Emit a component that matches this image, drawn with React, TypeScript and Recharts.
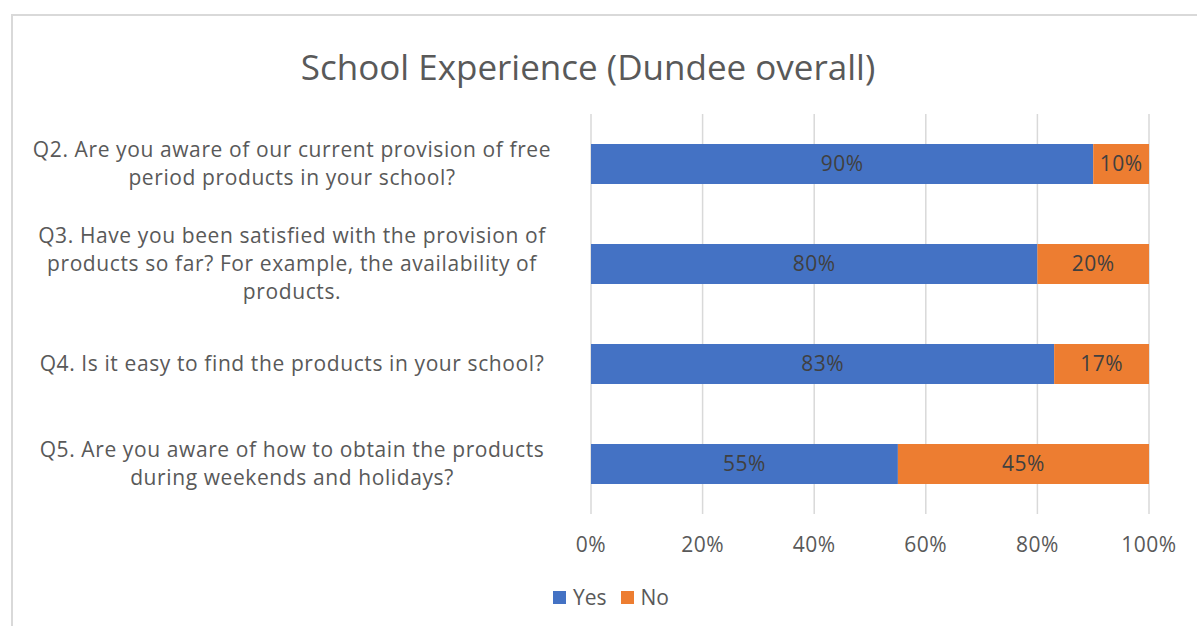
import React from 'react';
import {
  BarChart,
  Bar,
  XAxis,
  YAxis,
  CartesianGrid,
  LabelList,
} from 'recharts';

const questions = ['Q2', 'Q3', 'Q4', 'Q5'];
const questionLines: string[][] = [
  ['Q2. Are you aware of our current provision of free', 'period products in your school?'],
  ['Q3. Have you been satisfied with the provision of', 'products so far? For example, the availability of', 'products.'],
  ['Q4.  Is it easy to find the products in your school?'],
  ['Q5. Are you aware of how to obtain the products', 'during weekends and holidays?'],
];
const yesValues = [90, 80, 83, 55];
const noValues = [10, 20, 17, 45];
const xTicks = [0, 20, 40, 60, 80, 100];

const series = [
  { key: 'yes', name: 'Yes', color: '#4472C4' },
  { key: 'no', name: 'No', color: '#ED7D31' },
];

const data = questions.map((q, i) => ({
  q,
  yes: yesValues[i],
  no: noValues[i],
}));

const FONT = '"Open Sans", "Noto Sans", sans-serif';

const QuestionTick = ({ x, y, payload }: any) => {
  const idx = questions.indexOf(payload.value);
  const lines = questionLines[idx] || [payload.value];
  const lh = 28;
  const start = y - ((lines.length - 1) * lh) / 2;
  return (
    <text
      x={x - 291}
      y={start}
      textAnchor="middle"
      fill="#595959"
      fontSize={21}
      letterSpacing={0.6}
      fontFamily={FONT}
    >
      {lines.map((l, i) => (
        <tspan key={i} x={x - 291} y={start + i * lh} dy="0.35em">
          {l}
        </tspan>
      ))}
    </text>
  );
};

const App: React.FC = () => {
  return (
    <div style={{ position: 'absolute', left: 0, top: 0, width: 1197, height: 626, overflow: 'hidden', background: '#fff' }}>
      <div
        style={{
          position: 'absolute',
          left: 11,
          top: 14,
          width: 1200,
          height: 640,
          border: '2px solid #d9d9d9',
          boxSizing: 'border-box',
        }}
      />
      <div
        style={{
          position: 'absolute',
          left: 0,
          top: 42,
          width: 1176,
          textAlign: 'center',
          fontFamily: FONT,
          fontSize: 35,
          lineHeight: '50px',
          color: '#595959',
        }}
      >
        School Experience (Dundee overall)
      </div>
      <div style={{ position: 'absolute', left: 0, top: 0 }}>
        <BarChart
          width={1197}
          height={626}
          data={data}
          layout="vertical"
          margin={{ top: 114, right: 48, bottom: 82, left: 0 }}
          barSize={40}
        >
          <CartesianGrid horizontal={false} stroke="#d9d9d9" strokeWidth={1.5} />
          <XAxis
            type="number"
            domain={[0, 100]}
            ticks={xTicks}
            tickFormatter={(v: number) => `${v}%`}
            axisLine={false}
            tickLine={false}
            height={30}
            tickSize={6}
            tickMargin={17}
            tick={{ fill: '#595959', fontSize: 21, fontFamily: FONT, letterSpacing: 0.5 }}
            interval={0}
          />
          <YAxis
            type="category"
            dataKey="q"
            width={591}
            axisLine={false}
            tickLine={false}
            tick={<QuestionTick />}
            interval={0}
          />
          {series.map((s) => (
            <Bar key={s.key} dataKey={s.key} name={s.name} stackId="a" fill={s.color} isAnimationActive={false}>
              <LabelList
                dataKey={s.key}
                position="center"
                formatter={(v: any) => `${v}%`}
                fill="#404040"
                fontSize={21}
                letterSpacing={0.5}
                fontFamily={FONT}
              />
            </Bar>
          ))}
        </BarChart>
      </div>
      <div
        style={{
          position: 'absolute',
          left: 553,
          top: 582,
          display: 'flex',
          alignItems: 'center',
          fontFamily: FONT,
          fontSize: 21,
          color: '#595959',
          lineHeight: '30px',
        }}
      >
        {series.map((s) => (
          <div key={s.key} style={{ display: 'flex', alignItems: 'center', marginRight: 14 }}>
            <span style={{ display: 'inline-block', width: 13, height: 13, background: s.color, marginRight: 7 }} />
            <span>{s.name}</span>
          </div>
        ))}
      </div>
    </div>
  );
};

export default App;
